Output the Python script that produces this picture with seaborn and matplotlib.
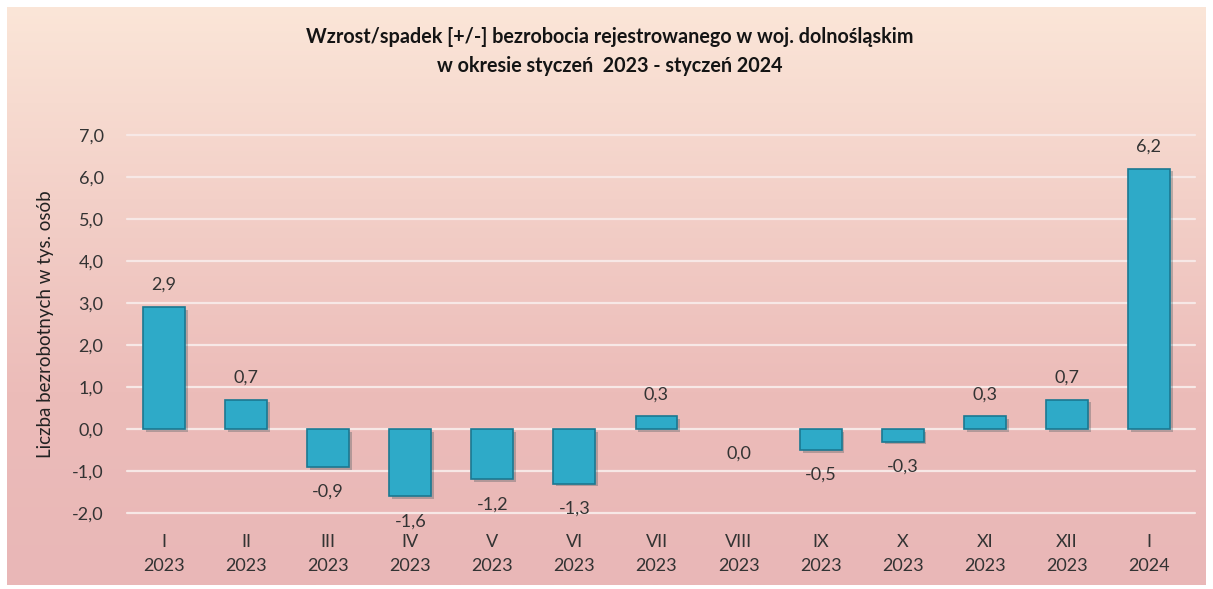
import numpy as np
import matplotlib
matplotlib.use('Agg')
import matplotlib.pyplot as plt
import matplotlib.patheffects as pe
import seaborn as sns
import pandas as pd
from matplotlib.colors import LinearSegmentedColormap

months = ['I', 'II', 'III', 'IV', 'V', 'VI', 'VII', 'VIII', 'IX', 'X', 'XI', 'XII', 'I']
years = ['2023'] * 12 + ['2024']
values = [2.9, 0.7, -0.9, -1.6, -1.2, -1.3, 0.3, 0.0, -0.5, -0.3, 0.3, 0.7, 6.2]
yticks = [-2, -1, 0, 1, 2, 3, 4, 5, 6, 7]

title = ('Wzrost/spadek [+/-] bezrobocia rejestrowanego w woj. dolnośląskim\n'
         'w okresie styczeń  2023 - styczeń 2024')
ylabel = 'Liczba bezrobotnych w tys. osób'

sns.set_style('white')
plt.rcParams['font.family'] = ['Lato', 'DejaVu Sans']

df = pd.DataFrame({'key': [f'{m}\n{y}' for m, y in zip(months, years)], 'value': values})

fig = plt.figure(figsize=(12.13, 5.89), dpi=100)
fig.patch.set_facecolor('white')

# gradient background (peach at top, pink at bottom)
bg = fig.add_axes([0.006, 0.006, 0.988, 0.982], zorder=-10)
cmap = LinearSegmentedColormap.from_list('bg', ['#fbe6d8', '#f3d0c8', '#ecbcb9', '#e9b7b7'])
grad = np.linspace(0, 1, 256).reshape(-1, 1)
bg.imshow(grad, aspect='auto', cmap=cmap, extent=[0, 1, 0, 1])
bg.set_axis_off()

ax = fig.add_axes([123 / 1213, 76 / 589, 1067 / 1213, 378 / 589])
ax.patch.set_alpha(0)
sns.barplot(data=df, x='key', y='value', color='#2eaac8', width=0.51,
            edgecolor='#1b7891', linewidth=1.2, saturation=1, ax=ax, zorder=3)
for bar in ax.patches:
    if bar.get_height() == 0:
        bar.set_linewidth(0)
    bar.set_path_effects([pe.SimplePatchShadow(offset=(2, -2), alpha=0.25), pe.Normal()])

ax.set_ylim(-2, 7)
ax.set_yticks(yticks)
ax.set_yticklabels([f'{t:.1f}'.replace('.', ',') for t in yticks], fontsize=13, color='#333333')
ax.tick_params(axis='x', labelsize=13, labelcolor='#333333', length=0, pad=15)
ax.tick_params(axis='y', length=0, pad=14)
ax.set_xlabel('')
ax.set_ylabel(ylabel, fontsize=13.5, color='#222222', labelpad=13)
for t in ax.get_xticklabels():
    t.set_linespacing(1.65)

for y in yticks:
    ax.axhline(y, xmin=0.004, xmax=1.005, color='#f7e8e6', lw=1.6, zorder=1, clip_on=False)
for s in ax.spines.values():
    s.set_visible(False)

for i, v in enumerate(values):
    txt = f'{v:.1f}'.replace('.', ',')
    dy = 16 if v > 0 else -18
    ax.annotate(txt, (i, v), xytext=(0, dy), textcoords='offset points',
                ha='center', va='center', fontsize=13, color='#333333')

fig.text(0.503, 0.9125, title, ha='center', va='center', fontsize=14.2,
         fontweight='bold', color='#141414', linespacing=1.6)

fig.savefig('out.png', dpi=100)
